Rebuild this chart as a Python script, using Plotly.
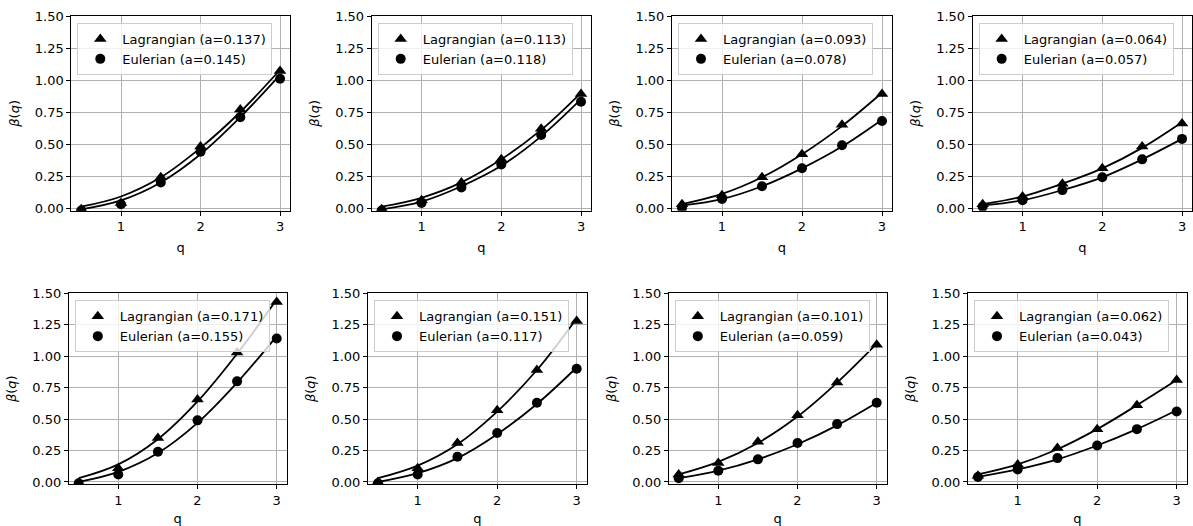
import plotly.graph_objects as go

q = [0.5, 1.0, 1.5, 2.0, 2.5, 3.0]

# a-parameters shown in legends (Lagrangian, Eulerian) per panel
a_lag = [0.137, 0.113, 0.093, 0.064, 0.171, 0.151, 0.101, 0.062]
a_eul = [0.145, 0.118, 0.078, 0.057, 0.155, 0.117, 0.059, 0.043]

# measured beta(q) points
lag_p1 = [-0.01, 0.04, 0.24, 0.48, 0.77, 1.07]
eul_p1 = [-0.02, 0.03, 0.20, 0.44, 0.71, 1.01]
lag_p2 = [-0.01, 0.06, 0.20, 0.38, 0.62, 0.89]
eul_p2 = [-0.02, 0.04, 0.16, 0.34, 0.57, 0.83]
lag_p3 = [0.03, 0.10, 0.24, 0.42, 0.65, 0.89]
eul_p3 = [0.00, 0.07, 0.17, 0.31, 0.49, 0.68]
lag_p4 = [0.03, 0.09, 0.19, 0.31, 0.48, 0.66]
eul_p4 = [0.01, 0.06, 0.14, 0.24, 0.38, 0.54]
lag_p5 = [-0.01, 0.11, 0.35, 0.655, 1.03, 1.43]
eul_p5 = [-0.01, 0.06, 0.24, 0.49, 0.80, 1.14]
lag_p6 = [0.00, 0.11, 0.31, 0.57, 0.89, 1.28]
eul_p6 = [-0.01, 0.06, 0.20, 0.39, 0.63, 0.90]
lag_p7 = [0.06, 0.15, 0.32, 0.53, 0.79, 1.09]
eul_p7 = [0.03, 0.09, 0.18, 0.31, 0.46, 0.63]
lag_p8 = [0.05, 0.14, 0.27, 0.42, 0.61, 0.81]
eul_p8 = [0.04, 0.10, 0.19, 0.29, 0.42, 0.56]

# fitted curves (read at the same q)
lag_fit1 = [0.01, 0.09, 0.24, 0.47, 0.75, 1.08]
eul_fit1 = [-0.01, 0.06, 0.20, 0.42, 0.71, 1.04]
lag_fit2 = [0.01, 0.08, 0.20, 0.38, 0.61, 0.90]
eul_fit2 = [-0.01, 0.05, 0.17, 0.33, 0.56, 0.85]
lag_fit3 = [0.03, 0.11, 0.24, 0.42, 0.64, 0.90]
eul_fit3 = [0.02, 0.07, 0.17, 0.31, 0.48, 0.69]
lag_fit4 = [0.03, 0.09, 0.19, 0.31, 0.47, 0.67]
eul_fit4 = [0.02, 0.06, 0.14, 0.24, 0.38, 0.54]
lag_fit5 = [0.03, 0.14, 0.34, 0.64, 1.02, 1.45]
eul_fit5 = [0.00, 0.08, 0.23, 0.47, 0.79, 1.16]
lag_fit6 = [0.03, 0.13, 0.30, 0.56, 0.89, 1.30]
eul_fit6 = [0.00, 0.07, 0.19, 0.38, 0.62, 0.91]
lag_fit7 = [0.06, 0.16, 0.31, 0.52, 0.79, 1.10]
eul_fit7 = [0.03, 0.09, 0.18, 0.30, 0.45, 0.63]
lag_fit8 = [0.06, 0.14, 0.26, 0.42, 0.61, 0.81]
eul_fit8 = [0.04, 0.10, 0.18, 0.29, 0.42, 0.57]

lag_pts = [lag_p1, lag_p2, lag_p3, lag_p4, lag_p5, lag_p6, lag_p7, lag_p8]
eul_pts = [eul_p1, eul_p2, eul_p3, eul_p4, eul_p5, eul_p6, eul_p7, eul_p8]
lag_fits = [lag_fit1, lag_fit2, lag_fit3, lag_fit4, lag_fit5, lag_fit6, lag_fit7, lag_fit8]
eul_fits = [eul_fit1, eul_fit2, eul_fit3, eul_fit4, eul_fit5, eul_fit6, eul_fit7, eul_fit8]

x_ticks = [1, 2, 3]
y_ticks = [0.0, 0.25, 0.5, 0.75, 1.0, 1.25, 1.5]

W, H = 1193, 526
FS = 13
# pixel boxes (left, right, top, bottom)
boxes = [
    (71.3, 290.0, 16.0, 210.7), (371.7, 591.0, 16.0, 210.7),
    (672.0, 892.0, 16.0, 210.7), (972.7, 1192.0, 16.0, 210.7),
    (68.8, 286.6, 293.3, 484.0), (368.0, 586.6, 293.3, 484.0),
    (668.8, 886.6, 293.3, 484.0), (968.0, 1186.6, 293.3, 484.0),
]
yranges = [[-0.021, 1.5]] * 4 + [[-0.016, 1.5]] * 4

fig = go.Figure()
layout = dict(
    template="none",
    width=W, height=H, margin=dict(l=0, r=0, t=0, b=0, autoexpand=False),
    paper_bgcolor="white", plot_bgcolor="white",
    font=dict(family="DejaVu Sans", size=FS, color="black"),
    showlegend=True,
)

for i in range(8):
    n = i + 1
    xa = "x" if n == 1 else f"x{n}"
    ya = "y" if n == 1 else f"y{n}"
    lg = "legend" if n == 1 else f"legend{n}"
    for fit in (lag_fits[i], eul_fits[i]):
        fig.add_trace(go.Scatter(
            x=q, y=fit, mode="lines", line=dict(color="black", width=1.8, shape="spline"),
            xaxis=xa, yaxis=ya, showlegend=False, hoverinfo="skip"))
    fig.add_trace(go.Scatter(
        x=q, y=lag_pts[i], mode="markers", name=f"Lagrangian (a={a_lag[i]:.3f})",
        marker=dict(symbol="triangle-up", size=11, color="black", line=dict(width=0)),
        xaxis=xa, yaxis=ya, legend=lg))
    fig.add_trace(go.Scatter(
        x=q, y=eul_pts[i], mode="markers", name=f"Eulerian (a={a_eul[i]:.3f})",
        marker=dict(symbol="circle", size=10, color="black", line=dict(width=0)),
        xaxis=xa, yaxis=ya, legend=lg))

    l, r, t, b = boxes[i]
    axkey_x = "xaxis" if n == 1 else f"xaxis{n}"
    axkey_y = "yaxis" if n == 1 else f"yaxis{n}"
    layout[axkey_x] = dict(
        domain=[l / W, r / W], range=[0.375, 3.125], anchor=ya, automargin=False,
        tickvals=x_ticks, ticktext=[str(v) for v in x_ticks],
        showgrid=True, gridcolor="#b0b0b0", gridwidth=0.8,
        showline=True, linecolor="black", linewidth=1, mirror=True,
        ticks="outside", ticklen=4, tickcolor="black", tickwidth=1,
        zeroline=False, title=dict(text="q", standoff=9, font=dict(size=FS)),
        tickfont=dict(size=FS),
    )
    layout[axkey_y] = dict(
        domain=[1 - b / H, 1 - t / H], range=yranges[i], anchor=xa, automargin=False,
        tickvals=y_ticks, ticktext=[f"{v:.2f}" for v in y_ticks],
        showgrid=True, gridcolor="#b0b0b0", gridwidth=0.8,
        showline=True, linecolor="black", linewidth=1, mirror=True,
        ticks="outside", ticklen=4, tickcolor="black", tickwidth=1,
        zeroline=False,
        title=dict(text="<i>β</i>(<i>q</i>)", standoff=12, font=dict(size=FS)),
        tickfont=dict(size=FS),
    )
    layout[lg] = dict(
        x=(l + 6) / W, y=1 - (t + 7) / H, xanchor="left", yanchor="top",
        bgcolor="rgba(255,255,255,0.8)", bordercolor="#cccccc", borderwidth=1,
        font=dict(size=FS, color="black"), tracegroupgap=0, itemwidth=34,
    )

fig.update_layout(**layout)
fig.write_html(
    "out.html",
    config={"displayModeBar": False},
    post_script="document.body.style.margin='0px';document.body.style.overflow='hidden';",
)
